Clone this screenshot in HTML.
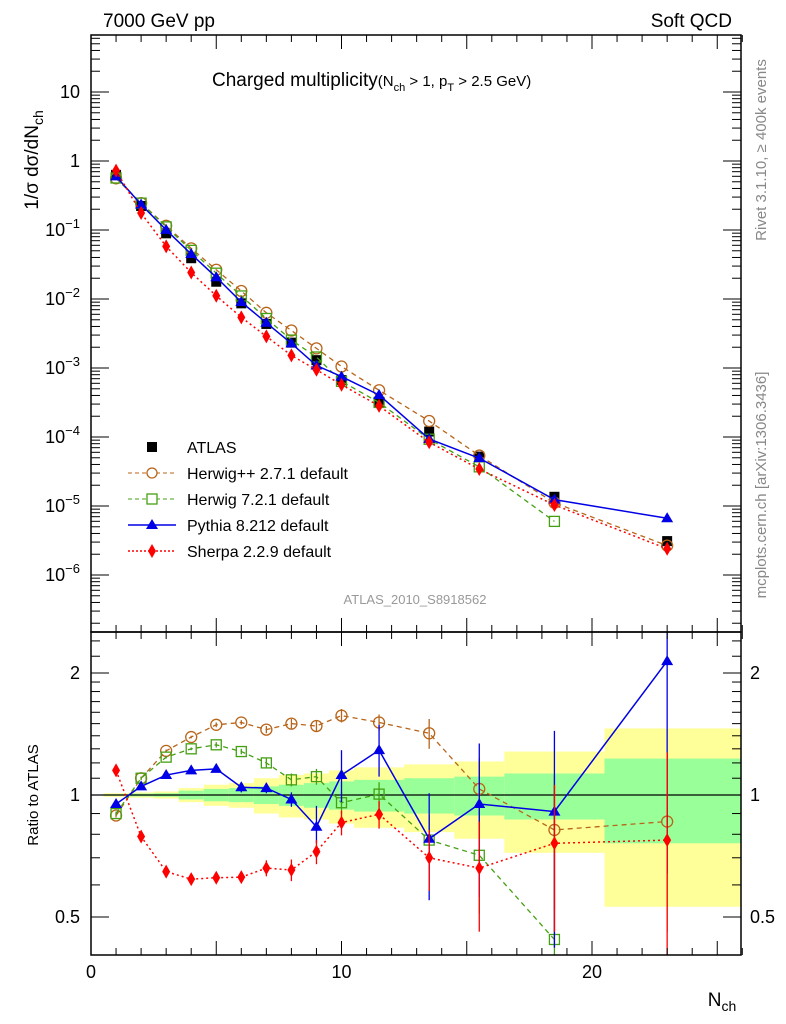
<!DOCTYPE html>
<html><head><meta charset="utf-8"><style>
body{margin:0;background:#fff;}
svg{font-family:"Liberation Sans",sans-serif;display:block}
</style></head><body>
<svg id="c" width="786" height="1024"></svg>
<script>
const xs=[1,2,3,4,5,6,7,8,9,10,11.5,13.5,15.5,18.5,23];
const atlas=[0.63,0.223,0.0895,0.039,0.0178,0.00865,0.00435,0.00233,0.0013,0.00067,0.000315,0.00012,0.000052,0.0000136,0.0000031];
const rHerwigpp=[0.89,1.10,1.285,1.39,1.49,1.51,1.45,1.50,1.48,1.57,1.51,1.42,1.035,0.82,0.86];
const rHerwig7=[0.90,1.10,1.24,1.30,1.33,1.28,1.20,1.09,1.11,0.957,1.005,0.774,0.71,0.44,null];
const rPythia=[0.95,1.05,1.12,1.15,1.16,1.045,1.04,0.975,0.835,1.12,1.29,0.78,0.95,0.91,2.14];
const rSherpa=[1.15,0.79,0.647,0.62,0.625,0.627,0.66,0.653,0.725,0.855,0.896,0.70,0.66,0.76,0.774];
const ePythiaUp=[0.01,0.01,0.01,0.01,0.02,0.03,0.03,0.04,0.105,0.17,0.2,0.23,0.39,0.53,0.7];
const ePythiaDn=[0.01,0.01,0.01,0.01,0.02,0.03,0.03,0.04,0.075,0.16,0.18,0.23,0.39,0.49,1.5];
const eHerwigpp=[0.01,0.01,0.01,0.01,0.02,0.02,0.03,0.04,0.05,0.06,0.07,0.12,0.2,0.3,0.4];
const eHerwig7=[0.01,0.01,0.01,0.01,0.02,0.02,0.03,0.04,0.05,0.06,0.07,0.12,0.2,0.3,0];
const eSherpa=[0.01,0.01,0.01,0.01,0.02,0.02,0.03,0.04,0.05,0.06,0.07,0.12,0.2,0.3,0.5];
const binLo=[0.5,1.5,2.5,3.5,4.5,5.5,6.5,7.5,8.5,9.5,10.5,12.5,14.5,16.5,20.5];
const binHi=[1.5,2.5,3.5,4.5,5.5,6.5,7.5,8.5,9.5,10.5,12.5,14.5,16.5,20.5,26];
const greenHi=[1.004,1.008,1.01,1.025,1.035,1.04,1.05,1.06,1.07,1.08,1.09,1.10,1.11,1.13,1.23];
const greenLo=[0.996,0.992,0.99,0.975,0.965,0.96,0.95,0.94,0.93,0.92,0.91,0.90,0.89,0.87,0.76];
const yellowHi=[1.01,1.015,1.02,1.04,1.06,1.07,1.1,1.12,1.13,1.15,1.17,1.19,1.21,1.28,1.46];
const yellowLo=[0.99,0.985,0.98,0.96,0.94,0.93,0.9,0.88,0.87,0.85,0.83,0.81,0.78,0.72,0.53];

const NS="http://www.w3.org/2000/svg";
const svg=document.getElementById('c');
function el(t,a,p){const e=document.createElementNS(NS,t);for(const k in a)e.setAttribute(k,a[k]);(p||svg).appendChild(e);return e;}
const X=v=>91+25.05*v;
const YT=v=>161-69*Math.log10(v);
const YR=r=>795-122*Math.log2(r);
const L=91,R=741,T=35,M=632,B=955;
// clips
const defs=el('defs',{});
const c1=el('clipPath',{id:'ct'},defs);el('rect',{x:L,y:T,width:R-L,height:M-T},c1);
const c2=el('clipPath',{id:'cr'},defs);el('rect',{x:L,y:M,width:R-L,height:B-M},c2);
const gT=el('g',{'clip-path':'url(#ct)'});

const gR=el('g',{'clip-path':'url(#cr)'});


// bands
for(let i=0;i<binLo.length;i++){
  const y=el('rect',{x:X(binLo[i]),y:YR(yellowHi[i]),width:X(binHi[i])-X(binLo[i]),height:YR(yellowLo[i])-YR(yellowHi[i]),fill:'#ffff99'},gR);
  
  const g=el('rect',{x:X(binLo[i]),y:YR(greenHi[i]),width:X(binHi[i])-X(binLo[i]),height:YR(greenLo[i])-YR(greenHi[i]),fill:'#99ff99'},gR);
  
}
el('line',{x1:L,x2:R,y1:YR(1),y2:YR(1),stroke:'#000','stroke-width':1.3},gR);

function marker(type,x,y,col,g){
  let m;
  if(type==='sq')m=el('rect',{x:x-5,y:y-5,width:10,height:10,fill:'#000'},g);
  else if(type==='circ')m=el('circle',{cx:x,cy:y,r:5.5,fill:'none',stroke:col,'stroke-width':1.3},g);
  else if(type==='osq')m=el('rect',{x:x-5,y:y-5,width:10,height:10,fill:'none',stroke:col,'stroke-width':1.3},g);
  else if(type==='tri')m=el('path',{d:`M${x},${y-6}L${x+6},${y+4}L${x-6},${y+4}Z`,fill:col},g);
  else m=el('path',{d:`M${x},${y-7}L${x+4},${y}L${x},${y+7}L${x-4},${y}Z`,fill:col},g);
  return m;
}
const series=[
 {name:'herwigpp',r:rHerwigpp,eu:eHerwigpp,ed:eHerwigpp,col:'#b8651a',dash:'5,4',w:1.3,m:'circ'},
 {name:'herwig7',r:rHerwig7,eu:eHerwig7,ed:eHerwig7,col:'#44a012',dash:'5,4',w:1.3,m:'osq'},
 {name:'pythia',r:rPythia,eu:ePythiaUp,ed:ePythiaDn,col:'#0000e6',dash:'',w:1.5,m:'tri'},
 {name:'sherpa',r:rSherpa,eu:eSherpa,ed:eSherpa,col:'#ff0000',dash:'2,3',w:1.5,m:'dia'}
];
// ATLAS main
const ae=el('g',{},gT);
for(let i=0;i<xs.length;i++){const m=marker('sq',X(xs[i]),YT(atlas[i]),'#000',ae);
 }
for(const s of series){
  const pt=[],pr=[];
  for(let i=0;i<xs.length;i++){ if(s.r[i]==null)continue;
    pt.push([X(xs[i]),YT(atlas[i]*s.r[i])]); pr.push([X(xs[i]),YR(s.r[i])]); }
  for(const [g,pts,isR] of [[gT,pt,false],[gR,pr,true]]){
    const pl=el('polyline',{points:pts.map(p=>p.join(',')).join(' '),fill:'none',stroke:s.col,'stroke-width':s.w,'stroke-dasharray':s.dash},g);
    
    
  }
  for(let i=0;i<xs.length;i++){ if(s.r[i]==null)continue;
    const x=X(xs[i]);
    const ya=YR(s.r[i]+s.eu[i]), yb=YR(Math.max(0.3,s.r[i]-s.ed[i]));
    const eb=el('line',{x1:x,x2:x,y1:ya,y2:yb,stroke:s.col,'stroke-width':1.3},gR);
    
    const m1=marker(s.m,x,YT(atlas[i]*s.r[i]),s.col,gT);
    
    const m2=marker(s.m,x,YR(s.r[i]),s.col,gR);
    
  }
}
// frames
for(const [y1,y2] of [[T,M],[M,B]])el('rect',{x:L,y:y1,width:R-L,height:y2-y1,fill:'none',stroke:'#000','stroke-width':1.5});
// x ticks
for(let v=0;v<=26;v++){
  const len=v%5===0?14:7;
  for(const [y,d] of [[T,1],[M,-1],[M,1],[B,-1]]) el('line',{x1:X(v),x2:X(v),y1:y,y2:y+d*len,stroke:'#000'});
}
for(const v of [0,10,20]){const t=el('text',{x:X(v),y:978,'font-size':18,'text-anchor':'middle'});t.textContent=v;
 }
// y ticks main
for(let e=-7;e<=1;e++)for(let k=1;k<10;k++){
  const v=k*Math.pow(10,e),y=YT(v); if(y<T||y>M)continue;
  const len=k===1?18:9;
  el('line',{x1:L,x2:L+len,y1:y,y2:y,stroke:'#000'});el('line',{x1:R,x2:R-len,y1:y,y2:y,stroke:'#000'});
}
const ylabs=[[10,'10'],[1,'1']];
for(const [v,s] of ylabs){const t=el('text',{x:80,y:YT(v)+6,'font-size':18,'text-anchor':'end'});t.textContent=s;
 }
for(let e=-1;e>=-6;e--){const t=el('text',{x:80,y:YT(Math.pow(10,e))+6,'font-size':18,'text-anchor':'end'});
 
 t.innerHTML='10<tspan dy="-8" font-size="13">'+'&#8722;'+(-e)+'</tspan>';}
// ratio ticks
const rt=[0.4,0.5,0.6,0.7,0.8,0.9,1,1.1,1.2,1.3,1.4,1.5,1.6,1.7,1.8,1.9,2,2.2,2.4];
for(const r of rt){const y=YR(r);if(y<M||y>B)continue;const len=(r===0.5||r===1||r===2)?18:9;
 el('line',{x1:L,x2:L+len,y1:y,y2:y,stroke:'#000'});el('line',{x1:R,x2:R-len,y1:y,y2:y,stroke:'#000'});}
for(const [r,s] of [[2,'2'],[1,'1'],[0.5,'0.5']]){
 const t=el('text',{x:80,y:YR(r)+6,'font-size':18,'text-anchor':'end'});t.textContent=s;
 
 const t2=el('text',{x:750,y:YR(r)+6,'font-size':18});t2.textContent=s;
 }
</script>
<svg width="786" height="1024" style="position:absolute;left:0;top:0">
<text x="103" y="27" font-size="19">7000 GeV pp</text>
<text x="732" y="27" font-size="19" text-anchor="end">Soft QCD</text>
<text x="212" y="86" font-size="19">Charged multiplicity<tspan font-size="15">(N</tspan><tspan font-size="11" dy="5">ch</tspan><tspan font-size="15" dy="-5"> &gt; 1, p</tspan><tspan font-size="11" dy="5">T</tspan><tspan font-size="15" dy="-5"> &gt; 2.5 GeV)</tspan></text>
<text transform="translate(38,160) rotate(-90)" font-size="19" text-anchor="middle">1/σ dσ/dN<tspan font-size="14" dy="5">ch</tspan></text>
<text transform="translate(38,795) rotate(-90)" font-size="15" text-anchor="middle">Ratio to ATLAS</text>
<text x="722" y="1006" font-size="19" text-anchor="middle">N<tspan font-size="14" dy="5">ch</tspan></text>
<text transform="translate(766,150) rotate(-90)" font-size="15" fill="#888" text-anchor="middle">Rivet 3.1.10, ≥ 400k events</text>
<text transform="translate(766,485) rotate(-90)" font-size="15" fill="#888" text-anchor="middle">mcplots.cern.ch [arXiv:1306.3436]</text>
<text x="415" y="604" font-size="13" fill="#999" text-anchor="middle">ATLAS_2010_S8918562</text>
<g font-size="16">
 <g><rect x="147" y="442" width="10" height="10" fill="#000"/><text x="187" y="453">ATLAS</text></g>
 <g><line x1="128" x2="176" y1="473" y2="473" stroke="#b8651a" stroke-dasharray="4,3"/><circle cx="152" cy="473" r="5" fill="#fff" stroke="#b8651a" stroke-width="1.3"/><text x="187" y="479">Herwig++ 2.7.1 default</text></g>
 <g><line x1="128" x2="176" y1="499" y2="499" stroke="#44a012" stroke-dasharray="4,3"/><rect x="147" y="494" width="10" height="10" fill="#fff" stroke="#44a012" stroke-width="1.3"/><text x="187" y="505">Herwig 7.2.1 default</text></g>
 <g><line x1="128" x2="176" y1="525" y2="525" stroke="#0000e6" stroke-width="1.5"/><path d="M152,519L158,529L146,529Z" fill="#0000e6"/><text x="187" y="531">Pythia 8.212 default</text></g>
 <g><line x1="128" x2="176" y1="551" y2="551" stroke="#ff0000" stroke-width="1.5" stroke-dasharray="2,2"/><path d="M152,544L156,551L152,558L148,551Z" fill="#ff0000"/><text x="187" y="557">Sherpa 2.2.9 default</text></g>
</g>
</svg>
</body></html>
